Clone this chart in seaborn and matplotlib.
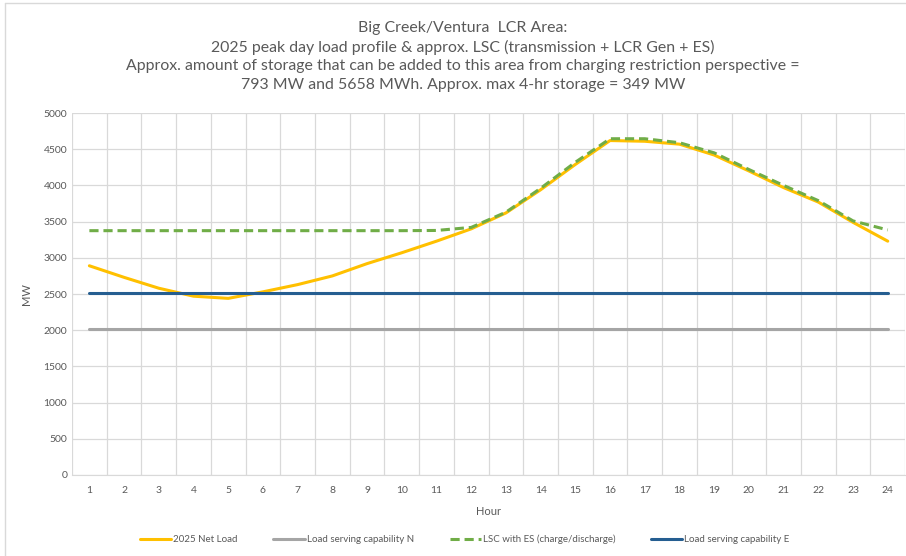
import matplotlib
matplotlib.use("Agg")
import matplotlib.pyplot as plt
import numpy as np
import pandas as pd
import seaborn as sns

hours = list(range(1, 25))
net_load = [2890, 2730, 2580, 2470, 2440, 2530, 2630, 2750, 2920, 3070, 3230, 3400,
            3620, 3940, 4290, 4620, 4610, 4570, 4420, 4200, 3970, 3770, 3490, 3230]
lsc_n = [2020] * 24
lsc_es = [3375, 3375, 3375, 3375, 3375, 3375, 3375, 3375, 3375, 3375, 3378, 3420,
          3630, 3960, 4320, 4645, 4645, 4590, 4450, 4220, 4000, 3790, 3510, 3385]
lsc_e = [2520] * 24

series_names = ["2025 Net Load", "Load serving capability N",
                "LSC with ES (charge/discharge)", "Load serving capability E"]
series_values = [net_load, lsc_n, lsc_es, lsc_e]
colors = ["#FFC000", "#A5A5A5", "#70AD47", "#255E91"]

df = pd.DataFrame({"Hour": hours * 4,
                   "MW": np.concatenate(series_values),
                   "series": np.repeat(series_names, 24)})

sns.set_style("white")
plt.rcParams["font.family"] = ["Lato", "DejaVu Sans"]

fig = plt.figure(figsize=(9.06, 5.56), dpi=100)
ax = fig.add_axes([0.0795, 0.1457, 0.9195, 0.651])

sns.lineplot(data=df, x="Hour", y="MW", hue="series", style="series",
             palette=dict(zip(series_names, colors)),
             dashes={series_names[0]: "", series_names[1]: "",
                     series_names[2]: (3, 1.6), series_names[3]: ""},
             linewidth=2.2, ax=ax, legend=False)

ax.set_xlim(0.5, 24.5)
ax.set_ylim(0, 5000)
ax.set_xticks(hours)
ax.set_xticks(np.arange(0.5, 25, 1), minor=True)
ax.set_yticks(np.arange(0, 5001, 500))
ax.grid(False)
ax.grid(True, which="minor", axis="x", color="#D9D9D9", linewidth=0.9)
ax.grid(True, which="major", axis="y", color="#D9D9D9", linewidth=0.9)
ax.set_axisbelow(True)
for s in ax.spines.values():
    s.set_visible(False)
ax.spines["bottom"].set_visible(True)
ax.spines["bottom"].set_color("#D9D9D9")
ax.tick_params(axis="both", which="both", length=0, labelsize=7.5, colors="#595959")
ax.tick_params(axis="x", pad=8)
ax.set_xlabel("Hour", fontsize=8, color="#595959", labelpad=8)
ax.set_ylabel("MW", fontsize=8, color="#595959", labelpad=8)

title = ("Big Creek/Ventura  LCR Area:\n"
         "2025 peak day load profile & approx. LSC (transmission + LCR Gen + ES)\n"
         "Approx. amount of storage that can be added to this area from charging restriction perspective =\n"
         "793 MW and 5658 MWh. Approx. max 4-hr storage = 349 MW")
fig.text(0.511, 0.962, title, ha="center", va="top", fontsize=11.4,
         color="#595959", linespacing=1.4)

handles = [plt.Line2D([], [], color=c, linewidth=2.2,
                      linestyle=(0, (3, 1.6)) if i == 2 else "-")
           for i, c in enumerate(colors)]
fig.legend(handles, series_names, loc="center", bbox_to_anchor=(0.513, 0.03),
           ncol=4, frameon=False, fontsize=7, handlelength=3.2,
           columnspacing=3.7, labelcolor="#595959", handletextpad=0.2)

fig.add_artist(plt.Line2D([0.005, 0.005], [0, 0.995], color="#D9D9D9", linewidth=1))
fig.add_artist(plt.Line2D([0.005, 1], [0.995, 0.995], color="#D9D9D9", linewidth=1))

fig.savefig("out.png", dpi=100, facecolor="white")
